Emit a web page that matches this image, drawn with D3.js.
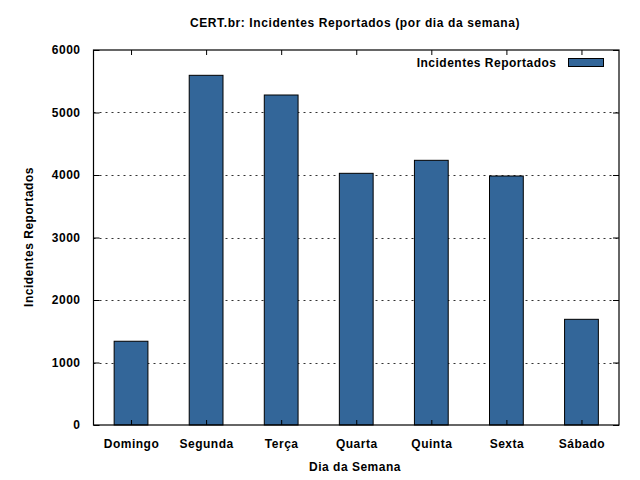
<!DOCTYPE html>
<html>
<head>
<meta charset="utf-8">
<script src="https://cdn.jsdelivr.net/npm/d3@7"></script>
<style>
  body { margin: 0; background: #fff; }
  text { font-family: "Liberation Sans", Arial, sans-serif; font-weight: bold; font-size: 12px; fill: #000; }
</style>
</head>
<body>
<svg width="640" height="480"></svg>
<script>
let days = ["Domingo", "Segunda", "Terça", "Quarta", "Quinta", "Sexta", "Sábado"];
let incidents = [1340, 5595, 5280, 4027, 4235, 3984, 1691];
let yTicks = [0, 1000, 2000, 3000, 4000, 5000, 6000];

let svg = d3.select("svg"),
    margin = {top: 50, right: 21, bottom: 55, left: 93.5},
    width = 640 - margin.left - margin.right,
    height = 480 - margin.top - margin.bottom;

// category index scale, like gnuplot's xtics at 0..6
let x = d3.scaleLinear().domain([-0.5, 6.5]).range([0, width]);
let y = d3.scaleLinear().domain([0, 6000]).range([height, 0]);
let barW = 0.45;

let g = svg.append("g")
    .attr("transform", "translate(" + margin.left + "," + margin.top + ")");

// dotted grid
g.selectAll(".grid")
    .data(yTicks.slice(1, -1))
    .enter().append("line")
    .attr("x1", 0).attr("x2", width)
    .attr("y1", d => Math.round(y(d)) + 0.5)
    .attr("y2", d => Math.round(y(d)) + 0.5)
    .attr("stroke", "#333")
    .attr("stroke-dasharray", "2,4");

// bars
g.selectAll(".bar")
    .data(incidents)
    .enter().append("rect")
    .attr("x", (d, i) => x(i - barW / 2))
    .attr("width", x(barW) - x(0))
    .attr("y", d => y(d))
    .attr("height", d => height - y(d))
    .attr("fill", "#336699")
    .attr("stroke", "#000")
    .attr("stroke-width", 1);

// y axis ticks, inward on both sides
let yAxisL = d3.axisLeft(y).tickValues(yTicks).tickSize(-6).tickPadding(13).tickFormat(d3.format("d"));
let yAxisR = d3.axisRight(y).tickValues(yTicks).tickSize(-6).tickFormat("");
let xAxisB = d3.axisBottom(x).tickValues(d3.range(days.length))
    .tickFormat(i => days[i]).tickSize(-5).tickPadding(14);
let xAxisT = d3.axisTop(x).tickValues(d3.range(days.length)).tickSize(-5).tickFormat("");

g.append("g").call(yAxisL);
g.append("g").attr("transform", "translate(" + width + ",0)").call(yAxisR);
g.append("g").attr("transform", "translate(0," + height + ")").call(xAxisB);
g.append("g").call(xAxisT);

g.selectAll(".domain").remove();
g.selectAll(".tick line").attr("stroke", "#000");
g.selectAll(".tick text")
    .style("font-family", "'Liberation Sans', Arial, sans-serif")
    .style("font-weight", "bold")
    .style("font-size", "12px")
    .style("letter-spacing", "0.5px")
    .attr("fill", "#000");

// border
g.append("rect")
    .attr("width", width).attr("height", height)
    .attr("fill", "none").attr("stroke", "#000").attr("stroke-width", 1.2);

// legend
g.append("rect")
    .attr("x", 475).attr("y", 8.5)
    .attr("width", 35).attr("height", 8)
    .attr("fill", "#336699").attr("stroke", "#000");
g.append("text")
    .attr("x", 463).attr("y", 17)
    .style("text-anchor", "end")
    .style("letter-spacing", "0.5px")
    .text("Incidentes Reportados");

// title
svg.append("text")
    .attr("x", 355).attr("y", 27)
    .style("text-anchor", "middle")
    .style("letter-spacing", "0.6px")
    .text("CERT.br: Incidentes Reportados (por dia da semana)");

// x label
svg.append("text")
    .attr("x", 355).attr("y", 471)
    .style("text-anchor", "middle")
    .style("letter-spacing", "0.5px")
    .text("Dia da Semana");

// y label
svg.append("text")
    .attr("transform", "rotate(-90)")
    .attr("x", -237).attr("y", 33)
    .style("text-anchor", "middle")
    .style("letter-spacing", "0.5px")
    .text("Incidentes Reportados");
</script>
</body>
</html>
